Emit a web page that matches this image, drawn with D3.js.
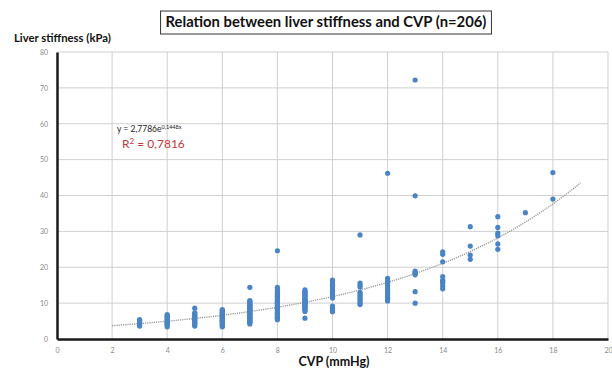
<!DOCTYPE html>
<html>
<head>
<meta charset="utf-8">
<script src="https://cdn.jsdelivr.net/npm/d3@7"></script>
<style>
  html, body { margin: 0; padding: 0; background: #fff; }
  svg { display: block; }
</style>
</head>
<body>
<svg id="chart" width="612" height="368"></svg>
<script>
// CVP levels (mmHg) and the liver stiffness readings (kPa) recorded at each level
const cvpLevels = [3, 4, 5, 6, 7, 8, 9, 10, 11, 12, 13, 14, 15, 16, 17, 18];
const stiffnessByCvp = [
  [3.6, 4.0, 4.4, 4.8, 5.1, 5.4],
  [3.4, 3.8, 4.1, 4.4, 4.7, 5.0, 5.3, 5.6, 5.9, 6.2, 6.5, 6.8],
  [3.6, 4.0, 4.3, 4.7, 5.0, 5.3, 5.6, 5.9, 6.2, 6.5, 6.8, 7.1, 7.3, 8.6],
  [3.4, 3.7, 4.0, 4.3, 4.6, 4.9, 5.2, 5.5, 5.8, 6.0, 6.3, 6.6, 6.9, 7.2, 7.4, 7.7, 8.0, 8.2, 5.0, 6.1],
  [4.2, 4.5, 4.8, 5.1, 5.4, 5.7, 6.0, 6.3, 6.6, 6.9, 7.2, 7.5, 7.8, 8.1, 8.4, 8.7, 9.0, 9.3, 9.6, 9.9, 10.2, 10.5, 10.7, 5.0, 6.0, 7.0, 8.0, 9.0, 14.4],
  [24.6, 14.4, 13.8, 13.2, 12.6, 12.0, 11.5, 11.0, 10.5, 10.0, 9.5, 9.0, 8.6, 8.2, 7.8, 7.4, 7.0, 6.6, 6.2, 5.8, 5.4, 10.2, 9.8, 8.8, 11.8, 12.3, 7.2, 6.0],
  [13.7, 13.3, 12.9, 12.5, 12.1, 11.7, 11.3, 10.9, 10.5, 10.1, 9.7, 9.3, 8.9, 8.5, 8.1, 7.7, 5.8, 11.0, 10.0, 9.0, 12.0, 13.0, 8.6, 9.9, 10.6],
  [16.4, 16.0, 15.5, 15.1, 14.6, 14.2, 13.7, 13.3, 12.8, 12.4, 11.9, 11.4, 9.2, 8.8, 8.4, 8.0, 7.6, 15.0],
  [29.0, 15.6, 15.0, 14.5, 13.0, 12.5, 12.0, 11.5, 11.0, 10.5, 10.0, 9.6],
  [46.2, 16.9, 16.2, 15.5, 14.9, 14.2, 13.6, 13.0, 12.4, 11.8, 11.2, 10.6],
  [72.2, 39.9, 18.9, 18.5, 17.9, 13.2, 10.0, 18.2],
  [24.3, 23.6, 21.5, 17.4, 16.4, 15.6, 14.8, 14.0, 16.0],
  [31.3, 25.9, 23.4, 22.2],
  [34.1, 31.1, 29.5, 28.8, 26.5, 25.0],
  [35.2],
  [46.4, 39.0]
];

// Exponential trend fitted to the readings: y = a * e^(b x)
const trendA = 2.7786;
const trendB = 0.1448;
const trendRange = [2, 19];
const rSquared = "0,7816";

const xTicks = [0, 2, 4, 6, 8, 10, 12, 14, 16, 18, 20];
const yTicks = [0, 10, 20, 30, 40, 50, 60, 70, 80];

const points = [];
cvpLevels.forEach((c, i) => stiffnessByCvp[i].forEach(v => points.push({ cvp: c, ls: v })));

const svg = d3.select("#chart");
const plotLeft = 57, plotRight = 608, plotTop = 52, plotBottom = 339;

const x = d3.scaleLinear().domain([0, 20]).range([plotLeft, plotRight]);
const y = d3.scaleLinear().domain([0, 80]).range([plotBottom, plotTop]);

// gridlines
svg.append("g").selectAll("line").data(xTicks.filter(t => t > 0)).join("line")
  .attr("x1", d => x(d)).attr("x2", d => x(d))
  .attr("y1", plotTop).attr("y2", plotBottom)
  .attr("stroke", "#cfcfcf").attr("stroke-width", 1);
svg.append("g").selectAll("line").data(yTicks.filter(t => t > 0)).join("line")
  .attr("x1", plotLeft).attr("x2", plotRight)
  .attr("y1", d => y(d)).attr("y2", d => y(d))
  .attr("stroke", "#cfcfcf").attr("stroke-width", 1);

// axes
const xAxis = svg.append("g").attr("transform", `translate(0,${plotBottom})`)
  .call(d3.axisBottom(x).tickValues(xTicks).tickSize(0).tickPadding(9));
const yAxis = svg.append("g").attr("transform", `translate(${plotLeft},0)`)
  .call(d3.axisLeft(y).tickValues(yTicks).tickSize(0).tickPadding(9));
[xAxis, yAxis].forEach(g => {
  g.select(".domain").attr("stroke", "#1a1a1a").attr("stroke-width", 2.5);
  g.selectAll("text").attr("fill", "#8a8a8a")
    .style("font-family", "Lato, 'Open Sans', sans-serif").style("font-size", "7px");
});

// trend line
const trendData = d3.range(trendRange[0], trendRange[1] + 0.001, 0.1);
svg.append("path")
  .datum(trendData)
  .attr("fill", "none")
  .attr("stroke", "#9a9a9a")
  .attr("stroke-width", 1.4)
  .attr("stroke-dasharray", "1.2,1")
  .attr("d", d3.line().x(d => x(d)).y(d => y(trendA * Math.exp(trendB * d))));

// readings
svg.append("g").selectAll("circle").data(points).join("circle")
  .attr("cx", d => x(d.cvp))
  .attr("cy", d => y(d.ls))
  .attr("r", 2.6)
  .attr("fill", "#4a84c4");

// equation and R²
const eq = svg.append("text").attr("x", 117).attr("y", 132)
  .style("font-family", "Lato, 'Open Sans', sans-serif").style("font-size", "8.5px").attr("fill", "#222");
eq.append("tspan").text("y = " + String(trendA).replace(".", ",") + "e");
eq.append("tspan").attr("dy", -3).style("font-size", "5.5px")
  .text(String(trendB).replace(".", ",") + "x");
const r2 = svg.append("text").attr("x", 122).attr("y", 148)
  .style("font-family", "Lato, 'Open Sans', sans-serif").style("font-size", "12px").attr("fill", "#c0393b");
r2.append("tspan").text("R");
r2.append("tspan").attr("dy", -4).style("font-size", "8px").text("2");
r2.append("tspan").attr("dy", 4).text(" = " + rSquared);

// title in a box
const titleBox = svg.append("rect");
const title = svg.append("text").attr("x", 326).attr("y", 27).attr("text-anchor", "middle")
  .style("font-family", "Lato, 'Open Sans', sans-serif").style("font-size", "14.8px")
  .style("font-weight", "bold").attr("fill", "#111")
  .text("Relation between liver stiffness and CVP (n=206)");
const tb = title.node().getBBox();
titleBox
  .attr("x", tb.x - 5).attr("y", 11).attr("width", tb.width + 10).attr("height", 23)
  .attr("fill", "#fff").attr("stroke", "#333").attr("stroke-width", 1);

// axis titles
svg.append("text").attr("x", 14).attr("y", 42)
  .style("font-family", "Lato, 'Open Sans', sans-serif").style("font-size", "11.3px")
  .style("font-weight", "bold").attr("fill", "#111")
  .text("Liver stiffness (kPa)");
svg.append("text").attr("x", 334).attr("y", 366).attr("text-anchor", "middle")
  .style("font-family", "Lato, 'Open Sans', sans-serif").style("font-size", "12.5px")
  .style("font-weight", "bold").attr("fill", "#111")
  .text("CVP (mmHg)");
</script>
</body>
</html>
